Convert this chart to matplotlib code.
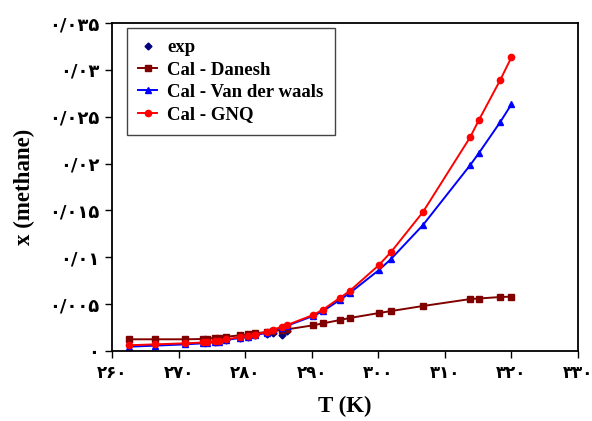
import matplotlib
matplotlib.use("Agg")
import matplotlib.pyplot as plt
from matplotlib.ticker import FixedLocator

# temperatures (K)
T_calc = [262.5, 266.5, 271.0, 273.7, 274.3, 275.5, 276.0, 277.1, 279.2, 280.4,
          281.5, 283.3, 284.2, 285.5, 286.3, 290.2, 291.7, 294.2, 295.7, 300.1,
          301.9, 306.7, 313.8, 315.1, 318.3, 320.0]

x_danesh = [0.00125, 0.00125, 0.00125, 0.00128, 0.00131, 0.00139, 0.00142, 0.00152,
            0.00167, 0.00178, 0.00189, 0.00203, 0.00213, 0.00224, 0.00231, 0.00274,
            0.00295, 0.00330, 0.00352, 0.00405, 0.00426, 0.00480, 0.00554, 0.00560,
            0.00576, 0.00580]

x_vdw = [0.00046, 0.00057, 0.00071, 0.00082, 0.00088, 0.00096, 0.00101, 0.00117,
         0.00139, 0.00152, 0.00167, 0.00197, 0.00219, 0.00250, 0.00270, 0.00373,
         0.00426, 0.00544, 0.00618, 0.00864, 0.00981, 0.01343, 0.01983, 0.02111,
         0.02441, 0.02633]

x_gnq = [0.00061, 0.00071, 0.00082, 0.00091, 0.00096, 0.00103, 0.00110, 0.00125,
         0.00146, 0.00160, 0.00174, 0.00206, 0.00227, 0.00259, 0.00277, 0.00384,
         0.00442, 0.00565, 0.00640, 0.00917, 0.01055, 0.01482, 0.02281, 0.02463,
         0.02889, 0.03134]

T_exp = [274.3, 275.5, 277.1, 279.2, 280.4, 281.5, 283.3, 284.2, 285.5, 286.3]
x_exp = [0.00095, 0.00100, 0.00120, 0.00140, 0.00150, 0.00170, 0.00180, 0.00190,
         0.00170, 0.00210]

xticks = [260, 270, 280, 290, 300, 310, 320, 330]
yticks = [0, 0.005, 0.01, 0.015, 0.02, 0.025, 0.03, 0.035]
xtick_labels = ["۲۶۰", "۲۷۰", "۲۸۰", "۲۹۰", "۳۰۰", "۳۱۰", "۳۲۰", "۳۳۰"]
ytick_labels = ["۰", "۰/۰۰۵", "۰/۰۱", "۰/۰۱۵", "۰/۰۲", "۰/۰۲۵", "۰/۰۳", "۰/۰۳۵"]

serif = ["Liberation Serif", "DejaVu Serif"]
tickfont = ["DejaVu Sans"]

fig = plt.figure(figsize=(5.92, 4.21), dpi=100)
ax = fig.add_axes([112 / 592, 1 - 351 / 421, 466 / 592, 328 / 421])

ax.plot(T_exp, x_exp, linestyle="none", marker="D", markersize=3.5,
        color="#000080", label="exp")
ax.plot(T_calc, x_danesh, color="#800000", marker="s", markersize=4.5,
        linewidth=1.4, label="Cal - Danesh")
ax.plot(T_calc, x_vdw, color="#0000FF", marker="^", markersize=4.5,
        linewidth=1.4, label="Cal - Van der waals")
ax.plot(T_calc, x_gnq, color="#FF0000", marker="o", markersize=4.5,
        linewidth=1.4, label="Cal - GNQ")

ax.set_xlim(260, 330)
ax.set_ylim(0, 0.035)
ax.xaxis.set_major_locator(FixedLocator(xticks))
ax.yaxis.set_major_locator(FixedLocator(yticks))
ax.set_xticklabels(xtick_labels, family=tickfont, fontweight="bold", fontsize=12)
ax.set_yticklabels(ytick_labels, family=tickfont, fontweight="bold", fontsize=13)
ax.tick_params(direction="out", length=5, width=1, colors="black", pad=4)

for s in ax.spines.values():
    s.set_linewidth(1.3)
    s.set_color("black")

ax.set_xlabel("T (K)", family=serif, fontweight="bold", fontsize=16.5, labelpad=10)
ax.set_ylabel("x (methane)", family=serif, fontweight="bold", fontsize=16.5, labelpad=10)

leg = ax.legend(loc="upper left", bbox_to_anchor=(0.032, 0.985), borderaxespad=0,
                prop={"family": serif, "weight": "bold", "size": 13.5},
                fancybox=False, framealpha=1, edgecolor="#444444",
                handlelength=1.0, handletextpad=0.55, labelspacing=0.28,
                borderpad=0.6)
leg.get_frame().set_linewidth(1.0)

fig.savefig("out.png", dpi=100)
